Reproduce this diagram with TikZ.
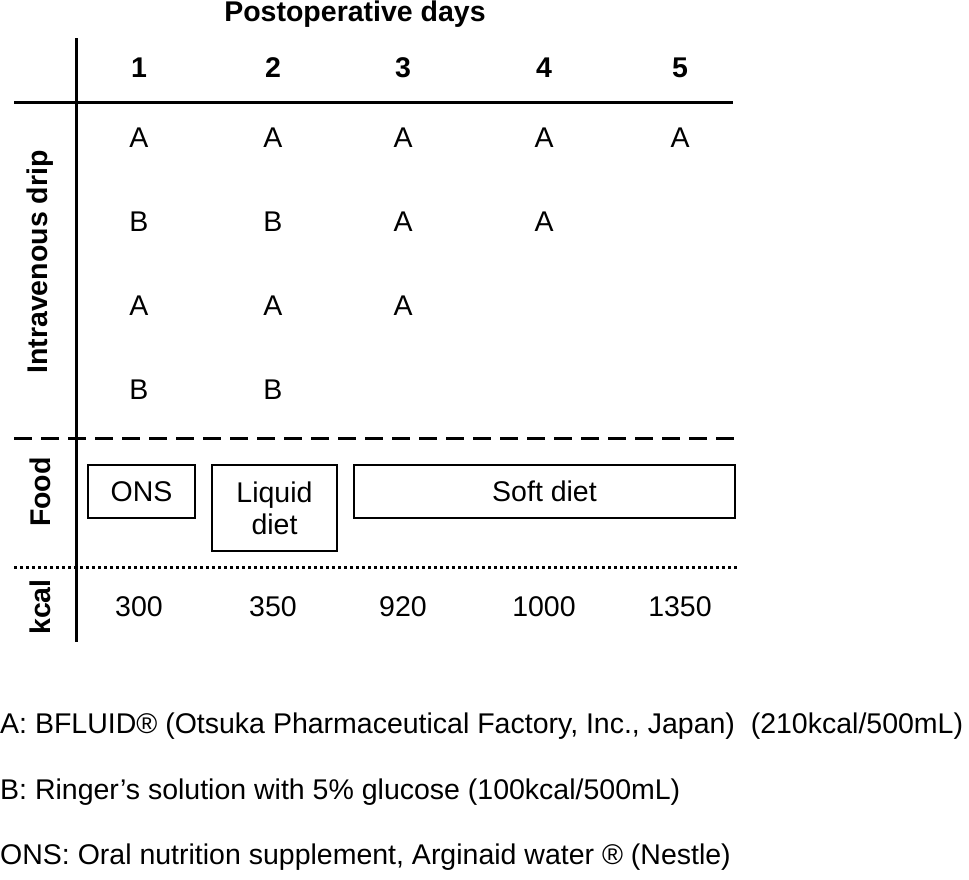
\documentclass[tikz,border=0pt]{standalone}
\usepackage{fontspec}
\setmainfont{Liberation Sans}
\begin{document}
\begin{tikzpicture}[x=1pt,y=-1pt,
  txt/.style={font=\fontsize{28.5}{32}\selectfont, inner sep=0},
  hdr/.style={font=\fontsize{28.5}{32}\selectfont\bfseries, inner sep=0},
  box/.style={draw, line width=1.3pt},
  rule/.style={line width=3pt}]
\useasboundingbox (0,0) rectangle (969,879);
\node[hdr] (title) at (355,14) {Postoperative days};
\coordinate (vt) at (76,38); \coordinate (vb) at (76,642);
\draw[rule] (vt) -- (vb);
\coordinate (h1) at (14,102); \coordinate (h2) at (733,102);
\draw[rule] (h1) -- (h2);
\foreach \x/\d in {139/1,273/2,403/3,544/4,680/5} \node[hdr] (d\d) at (\x,68) {\d};
\foreach \x/\y/\t/\n in {139/138/A/a1,273/138/A/a2,403/138/A/a3,544/138/A/a4,680/138/A/a5,
  139/222/B/b1,273/222/B/b2,403/222/A/b3,544/222/A/b4,
  139/306/A/c1,273/306/A/c2,403/306/A/c3,
  139/390/B/e1,273/390/B/e2}
  \node[txt] (\n) at (\x,\y) {\t};
\coordinate (ds1) at (14,438); \coordinate (ds2) at (737,438);
\draw[rule, dash pattern=on 18pt off 9pt] (ds1) -- (ds2);
\node[box, txt, minimum width=107, minimum height=53] (ons) at (141.5,491.5) {ONS};
\node[box, txt, minimum width=125, minimum height=86, align=center] (liq) at (274.5,508) {Liquid\\diet};
\node[box, txt, minimum width=381, minimum height=53] (soft) at (544.5,491.5) {Soft diet};
\coordinate (dt1) at (14,567); \coordinate (dt2) at (737,567);
\draw[line width=3pt, dash pattern=on 3pt off 3pt] (dt1) -- (dt2);
\foreach \x/\k in {139/300,273/350,403/920,544/1000,680/1350} \node[txt] (k\k) at (\x,607) {\k};
\node[hdr, rotate=90] (iv) at (40,262) {Intravenous drip};
\node[hdr, rotate=90] (food) at (40,492) {Food};
\node[hdr, rotate=90] (kc) at (40,607) {kcal};
\node[txt, anchor=west] (fa) at (0,726) {A: BFLUID® (Otsuka Pharmaceutical Factory, Inc., Japan)\ \ (210kcal/500mL)};
\node[txt, anchor=west] (fb) at (0,792) {B: Ringer\symbol{39}s solution with 5\% glucose (100kcal/500mL)};
\node[txt, anchor=west] (fc) at (0,857) {ONS: Oral nutrition supplement, Arginaid water ® (Nestle)};
\end{tikzpicture}
\end{document}
